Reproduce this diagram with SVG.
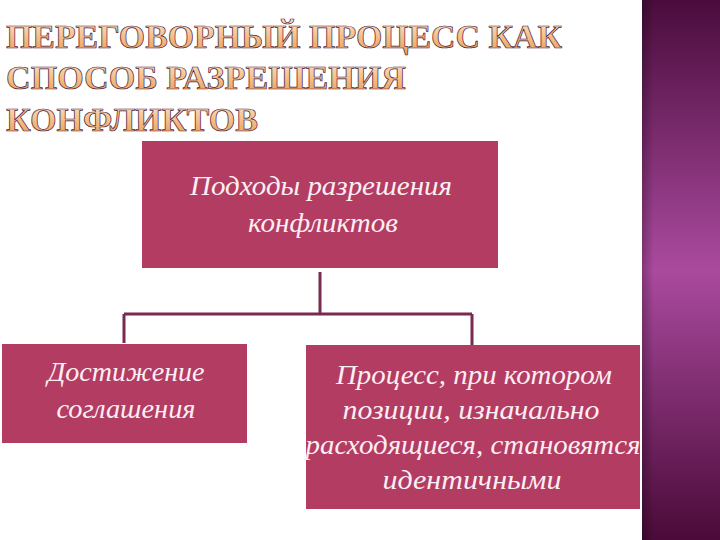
<svg xmlns="http://www.w3.org/2000/svg" width="720" height="540" viewBox="0 0 720 540">
<defs>
<linearGradient id="side" x1="0" y1="0" x2="0" y2="1">
<stop offset="0" stop-color="#4a0c3c"/>
<stop offset="0.5" stop-color="#aa4a9e"/>
<stop offset="1" stop-color="#4a0a38"/>
</linearGradient>
<linearGradient id="sideH" x1="0" y1="0" x2="1" y2="0">
<stop offset="0" stop-color="#000" stop-opacity="0.25"/>
<stop offset="0.15" stop-color="#000" stop-opacity="0"/>
<stop offset="1" stop-color="#000" stop-opacity="0"/>
</linearGradient>
<linearGradient id="gold" x1="0" y1="0" x2="0" y2="1">
<stop offset="0" stop-color="#fde6cc"/>
<stop offset="0.6" stop-color="#f3b87e"/>
<stop offset="1" stop-color="#e89a55"/>
</linearGradient>
<style>
.title{font-family:"Liberation Serif",serif;font-weight:bold;font-size:34px;fill:url(#gold);stroke:#4a1838;stroke-width:0.7;}
.box{fill:#b33c62;}
.lbl{font-family:"Liberation Serif",serif;font-style:italic;font-size:28px;fill:#fbeef3;text-anchor:middle;}
.conn{fill:none;stroke:#7a2a50;stroke-width:3;}
</style>
</defs>
<rect width="720" height="540" fill="#ffffff"/>
<rect x="642" y="0" width="78" height="540" fill="url(#side)"/>
<rect x="642" y="0" width="78" height="540" fill="url(#sideH)"/>
<g id="title">
<text class="title" x="6" y="48" textLength="556" lengthAdjust="spacingAndGlyphs">ПЕРЕГОВОРНЫЙ ПРОЦЕСС КАК</text>
<text class="title" x="6" y="89" textLength="400" lengthAdjust="spacingAndGlyphs">СПОСОБ РАЗРЕШЕНИЯ</text>
<text class="title" x="6" y="131" textLength="252" lengthAdjust="spacingAndGlyphs">КОНФЛИКТОВ</text>
</g>
<g id="connectors">
<path class="conn" d="M320 272 V314 M124 314 H472 M124 314 V343 M472 314 V345"/>
</g>
<g id="node-top">
<rect class="box" x="142" y="141" width="356" height="127"/>
<text class="lbl" x="321" y="195" textLength="262" lengthAdjust="spacingAndGlyphs">Подходы разрешения</text>
<text class="lbl" x="323" y="232" textLength="150" lengthAdjust="spacingAndGlyphs">конфликтов</text>
</g>
<g id="node-left">
<rect class="box" x="2" y="344" width="245" height="99"/>
<text class="lbl" x="126" y="381" textLength="157" lengthAdjust="spacingAndGlyphs">Достижение</text>
<text class="lbl" x="126" y="418" textLength="139" lengthAdjust="spacingAndGlyphs">соглашения</text>
</g>
<g id="node-right">
<rect class="box" x="306" y="345" width="334" height="164"/>
<text class="lbl" x="474" y="384" textLength="276" lengthAdjust="spacingAndGlyphs">Процесс, при котором</text>
<text class="lbl" x="471" y="419" textLength="257" lengthAdjust="spacingAndGlyphs">позиции, изначально</text>
<text class="lbl" x="473" y="454" textLength="335" lengthAdjust="spacingAndGlyphs">расходящиеся, становятся</text>
<text class="lbl" x="472" y="489" textLength="179" lengthAdjust="spacingAndGlyphs">идентичными</text>
</g>
</svg>
